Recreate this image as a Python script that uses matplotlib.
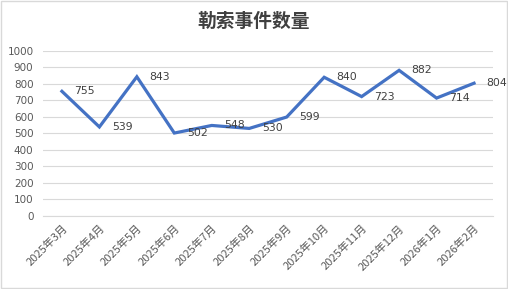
import matplotlib
matplotlib.use("Agg")
import matplotlib.pyplot as plt
from matplotlib.patches import Rectangle

plt.rcParams['font.family'] = ['Noto Sans CJK SC', 'DejaVu Sans']

months = ["2025年3月", "2025年4月", "2025年5月", "2025年6月", "2025年7月", "2025年8月",
          "2025年9月", "2025年10月", "2025年11月", "2025年12月", "2026年1月", "2026年2月"]
counts = [755, 539, 843, 502, 548, 530, 599, 840, 723, 882, 714, 804]
y_ticks = list(range(0, 1001, 100))

fig = plt.figure(figsize=(5.08, 2.89), dpi=100)
ax = fig.add_axes([0.085, 0.253, 0.885, 0.571])

x = list(range(len(months)))
ax.plot(x, counts, color="#4472C4", linewidth=2.3, solid_joinstyle="miter")

# data labels to the right of each point
for xi, v in zip(x, counts):
    ax.annotate(str(v), (xi, v), xytext=(9, 0), textcoords="offset points",
                ha="left", va="center", fontsize=7.8, color="#404040",
                family=["DejaVu Sans"])

ax.set_xlim(-0.5, len(months) - 0.5)
ax.set_ylim(0, 1000)
ax.set_yticks(y_ticks)
ax.set_xticks(x)
ax.set_xticklabels(months, rotation=45, ha="right", va="top", rotation_mode="anchor",
                   fontsize=8, color="#595959")
for lbl in ax.get_yticklabels():
    lbl.set_fontsize(7.5)
    lbl.set_color("#595959")
    lbl.set_family(["DejaVu Sans"])
ax.tick_params(axis="both", length=0)
ax.tick_params(axis="y", pad=7)
ax.tick_params(axis="x", pad=5)

ax.grid(axis="y", color="#D9D9D9", linewidth=0.8)
ax.set_axisbelow(True)
for s in ["top", "right", "left"]:
    ax.spines[s].set_visible(False)
ax.spines["bottom"].set_color("#D9D9D9")
ax.spines["bottom"].set_linewidth(0.8)

fig.text(0.5, 0.925, "勒索事件数量", ha="center", va="center", fontsize=13.5,
         fontweight="bold", color="#404040")

# thin grey border round the chart
fig.patches.append(Rectangle((0.001, 0.002), 0.997, 0.995, transform=fig.transFigure,
                             fill=False, edgecolor="#D9D9D9", linewidth=1))

fig.savefig("out.png", dpi=100)
